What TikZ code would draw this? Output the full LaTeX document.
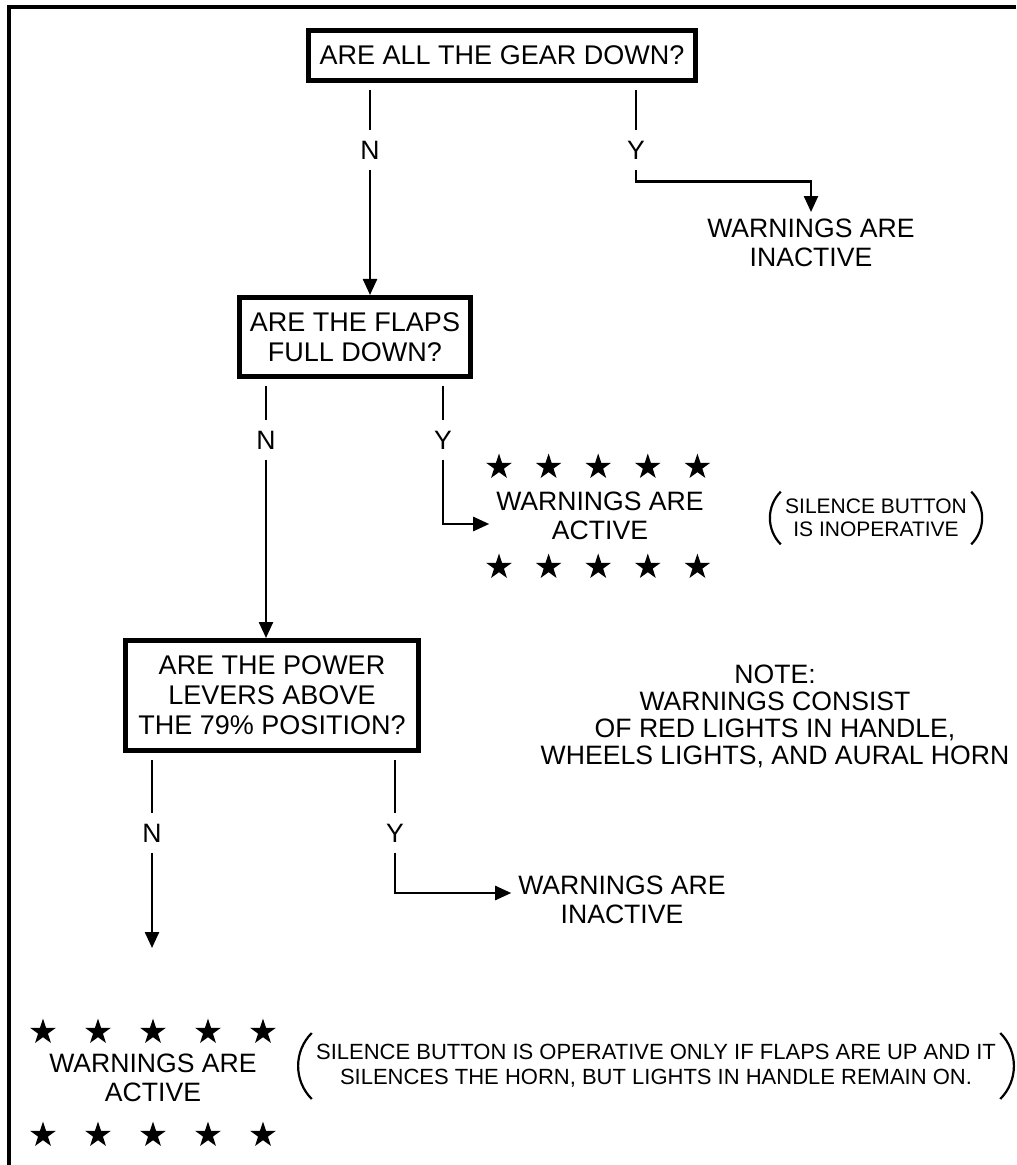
\documentclass[tikz,border=0pt]{standalone}
\usepackage{fontspec}
\setmainfont{Liberation Sans}
\usetikzlibrary{arrows.meta}
\usetikzlibrary{shapes.geometric}

\tikzset{
  question/.style={draw, line width=2.5pt, align=center, inner sep=0pt, font=\fontsize{13.5}{15}\selectfont},
  answer/.style={align=center, font=\fontsize{13.3}{14.5}\selectfont},
  yn/.style={inner sep=5pt, font=\fontsize{13.3}{15}\selectfont},
  conn/.style={line width=1.2pt, shorten <=3.5pt},
  arr/.style={line width=1.2pt, -{Triangle[length=8pt,width=7pt]}},
  warnstar/.style={star, star points=5, star point ratio=2.6, fill=black, inner sep=0pt, minimum size=13.5pt},
  aside/.style={align=center, inner xsep=2pt, font=\fontsize{10.5}{11.5}\selectfont},
  paren/.style={line width=1.1pt},
}

\begin{document}
\begin{tikzpicture}[x=0.5pt,y=-0.5pt]
  \useasboundingbox (0,0) rectangle (1016,1165);
  % Frame (top and left edge only).
  \draw[line width=2pt] (9,1165) -- (9,7) -- (1016,7);

  % Questions.
  \node[question, minimum width=193.5pt, minimum height=25pt] (gear) at (502,55.5) {ARE ALL THE GEAR DOWN?};
  \node[question, minimum width=115.5pt, minimum height=39.5pt] (flaps) at (355,337) {ARE THE FLAPS\\FULL DOWN?};
  \node[question, minimum width=146.5pt, minimum height=55pt] (power) at (272,695.5) {ARE THE POWER\\LEVERS ABOVE\\THE 79\% POSITION?};

  % Yes / no labels.
  \node[yn] (gearN) at (370,150) {N};
  \node[yn] (gearY) at (636,150) {Y};
  \node[yn] (flapsN) at (266,440) {N};
  \node[yn] (flapsY) at (443,440) {Y};
  \node[yn] (powerN) at (152,833) {N};
  \node[yn] (powerY) at (395,833) {Y};

  % Results.
  \node[answer] (inact1) at (811,243) {WARNINGS ARE\\INACTIVE};
  \node[answer] (act1) at (600,516) {WARNINGS ARE\\ACTIVE};
  \node[aside, inner ysep=3.5pt] (silence1) at (876,518) {SILENCE BUTTON\\IS INOPERATIVE};
  \node[answer] (inact2) at (622,900) {WARNINGS ARE\\INACTIVE};
  \node[answer] (act2) at (153,1078) {WARNINGS ARE\\ACTIVE};
  \node[aside, inner ysep=5.5pt, font=\fontsize{11}{12.5}\selectfont] (silence2) at (656,1066) {SILENCE BUTTON IS OPERATIVE ONLY IF FLAPS ARE UP AND IT\\SILENCES THE HORN, BUT LIGHTS IN HANDLE REMAIN ON.};
  \node[answer, font=\fontsize{13.3}{13.5}\selectfont] (note) at (775,716) {NOTE:\\WARNINGS CONSIST\\OF RED LIGHTS IN HANDLE,\\WHEELS LIGHTS, AND AURAL HORN};

  % Stars round the active warnings.
  \foreach \i in {0,...,4} {
    \node[warnstar] (act1top\i) at ({499+49.6*\i},467) {};
    \node[warnstar] (act1bot\i) at ({499+49.6*\i},567) {};
    \node[warnstar] (act2top\i) at ({43+55*\i},1032) {};
    \node[warnstar] (act2bot\i) at ({43+55*\i},1135) {};
  }

  % Brackets round the silence button remarks.
  \draw[paren] (silence1.north west) to[bend right=45] (silence1.south west);
  \draw[paren] (silence1.north east) to[bend left=45] (silence1.south east);
  \draw[paren] (silence2.north west) to[bend right=45] (silence2.south west);
  \draw[paren] (silence2.north east) to[bend left=45] (silence2.south east);

  % Connectors.
  \draw[conn] (gear.south -| gearN) -- (gearN);
  \draw[arr] (gearN) -- (flaps.north -| gearN);
  \draw[conn] (gear.south -| gearY) -- (gearY);
  \draw[arr] (gearY.south) -- ++(0,12) -| (inact1.north);

  \draw[conn] (flaps.south -| flapsN) -- (flapsN);
  \draw[arr] (flapsN) -- (power.north -| flapsN);
  \draw[conn] (flaps.south -| flapsY) -- (flapsY);
  \draw[arr] (flapsY) |- ([yshift=-4pt]act1.west);

  \coordinate (act2in) at (152,948);
  \draw[conn] (power.south -| powerN) -- (powerN);
  \draw[arr] (powerN) -- (act2in);
  \draw[conn] (power.south -| powerY) -- (powerY);
  \draw[arr] (powerY) |- ([yshift=3.5pt]inact2.west);
\end{tikzpicture}
\end{document}
